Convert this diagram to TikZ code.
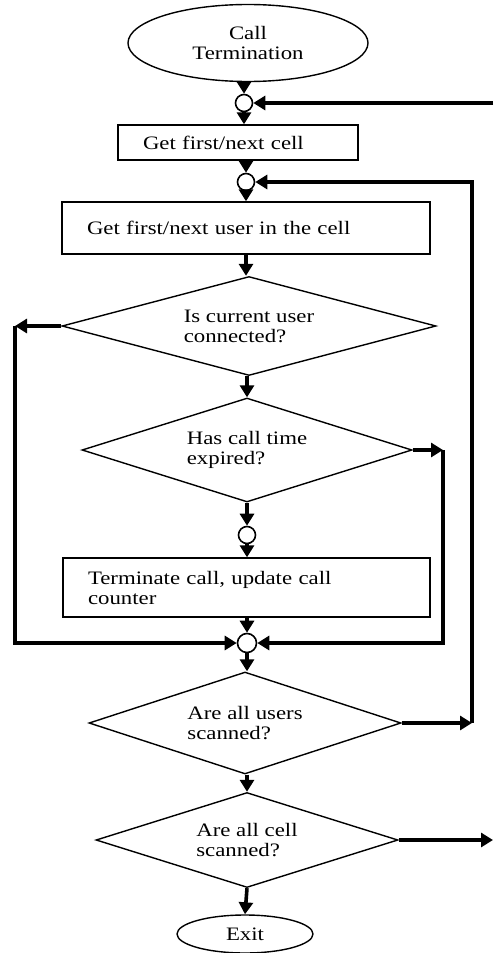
\documentclass[tikz,border=0pt]{standalone}
\usepackage{fontspec}
\setmainfont{Liberation Serif}[FakeStretch=1.2]
\usetikzlibrary{shapes.geometric,arrows.meta}

\begin{document}
\begin{tikzpicture}[x=0.5pt,y=-0.5pt,
    every node/.style={font=\fontsize{9.5}{10}\selectfont},
    term/.style={ellipse, draw, line width=0.7pt, inner sep=0pt, align=center},
    box/.style={rectangle, draw, line width=0.7pt, inner xsep=12.5pt, inner ysep=0pt, align=left},
    dec/.style={diamond, draw, line width=0.7pt, inner sep=0pt, shape aspect=3.6, align=left},
    junc/.style={circle, draw, line width=0.8pt, fill=white, inner sep=0pt, minimum size=8.5pt},
    flow/.style={line width=1.8pt, -{Triangle[length=6pt,width=7pt]}}]
                \useasboundingbox (0,0) rectangle (493,953);

                % Nodes
                \node[term, minimum width=120pt, minimum height=38.5pt] (start) at (248,43) {Call\\Termination};
                \node[junc] (j1) at (244,103) {};
                \node[box, text width=95pt, minimum height=17.5pt] (cell) at (238,142.5) {Get first/next cell};
                \node[junc] (j2) at (246,182) {};
                \node[box, text width=159pt, minimum height=26pt] (user) at (246,228) {Get first/next user in the cell};
                \node[dec, minimum width=187pt, minimum height=49.5pt] (conn) at (249,326) {Is current user\\connected?};
                \node[dec, minimum width=165pt, minimum height=52pt] (expd) at (247,450) {Has call time\\expired?};
                \node[junc] (j4) at (247,535) {};
                \node[box, text width=158.5pt, minimum height=29.5pt] (term) at (246.5,587.5) {Terminate call, update call\\counter};
                \node[junc, minimum size=9.5pt] (j3) at (247,643) {};
                \node[dec, minimum width=156pt, minimum height=51pt] (users) at (245,723) {Are all users\\scanned?};
                \node[dec, minimum width=151pt, minimum height=47.5pt] (cells) at (247,840) {Are all cell\\scanned?};
                \node[term, minimum width=68pt, minimum height=19pt] (exit) at (245,934) {Exit};

                \coordinate (r1) at (493,103);
                \coordinate (c1) at (15,326);
                \coordinate (c2) at (443,450);
                \coordinate (c3) at (472,723);
                \coordinate (r4) at (493,840);

                % Edges
                \draw[flow] (start.south -| j1) -- (j1);
                \draw[flow] (r1) -- (j1);
                \draw[flow] (j1) -- (j1 |- cell.north);
                \draw[flow] (j2 |- cell.south) -- (j2);
                \draw[flow] (j2) -- (user.north);
                \draw[flow] (user.south) -- (user.south |- conn.north);
                \draw[flow] (conn.west) -- (c1);
                \draw[flow] (c1) |- (j3.west);
                \draw[flow] (conn.south -| expd) -- (expd.north);
                \draw[flow] (expd.east) -- (c2);
                \draw[flow] (c2) |- (j3.east);
                \draw[flow] (expd.south) -- (j4);
                \draw[flow] (j4) -- (j4 |- term.north);
                \draw[flow] (j3 |- term.south) -- (j3);
                \draw[flow] (j3) -- (j3 |- users.north);
                \draw[flow] (users.east) -- (c3);
                \draw[flow] (c3) |- (j2.east);
                \draw[flow] (users.south -| cells) -- (cells.north);
                \draw[flow] (cells.east) -- (r4);
                \draw[flow] (cells.south) -- (exit.north);
            \end{tikzpicture}
\end{document}
